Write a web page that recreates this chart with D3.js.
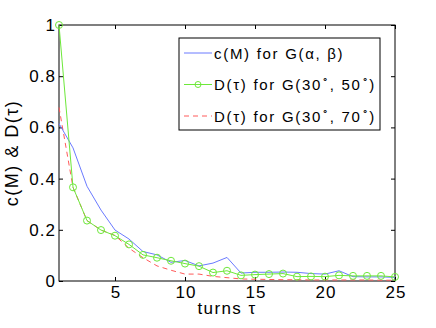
<!DOCTYPE html>
<html>
<head>
<meta charset="utf-8">
<script src="https://cdn.jsdelivr.net/npm/d3@7"></script>
<style>
  body { margin: 0; background: #fff; }
  text { font-family: "Liberation Sans", Arial, sans-serif; fill: #000; }
</style>
</head>
<body>
<div id="chart"></div>
<script>
const turns = d3.range(1, 26);
const cM = [0.615, 0.52, 0.37, 0.277, 0.199, 0.164, 0.115, 0.102, 0.073, 0.08, 0.059, 0.07,
  0.092, 0.031, 0.034, 0.034, 0.035, 0.034, 0.029, 0.027, 0.04, 0.017, 0.016, 0.016, 0.014];
const d50 = [1.0, 0.366, 0.236, 0.199, 0.177, 0.143, 0.102, 0.091, 0.079, 0.068, 0.058, 0.033,
  0.04, 0.022, 0.025, 0.027, 0.029, 0.017, 0.018, 0.017, 0.022, 0.02, 0.02, 0.02, 0.016];
const d70 = [0.678, 0.366, 0.236, 0.199, 0.178, 0.128, 0.091, 0.059, 0.042, 0.027, 0.027, 0.018,
  0.013, 0.008, 0.007, 0.006, 0.005, 0.005, 0.004, 0.004, 0.004, 0.004, 0.004, 0.003, 0.003];
const xTicks = [5, 10, 15, 20, 25];
const yTicks = [0, 0.2, 0.4, 0.6, 0.8, 1];

const width = 436, height = 328;
const margin = { top: 25, right: 41, bottom: 47, left: 59 };
const w = width - margin.left - margin.right,
  h = height - margin.top - margin.bottom;

const svg = d3.select("#chart").append("svg")
  .attr("width", width)
  .attr("height", height);

const g = svg.append("g")
  .attr("transform", `translate(${margin.left},${margin.top})`);

const x = d3.scaleLinear().domain([1, 25]).range([0, w]);
const y = d3.scaleLinear().domain([0, 1]).range([h, 0]);

// axes, MATLAB style with inward ticks on all four sides
const tickLen = 4;
g.append("g")
  .attr("transform", `translate(0,${h})`)
  .call(d3.axisBottom(x).tickValues(xTicks).tickSizeInner(-tickLen).tickSizeOuter(0).tickPadding(5))
  .call(a => a.selectAll("text").attr("font-size", 17).attr("dy", "0.72em")
    .attr("letter-spacing", 1).attr("dx", 0.5));
g.append("g")
  .call(d3.axisTop(x).tickValues(xTicks).tickSizeInner(-tickLen).tickSizeOuter(0).tickFormat(""));
g.append("g")
  .call(d3.axisLeft(y).tickValues(yTicks).tickSizeInner(-tickLen).tickSizeOuter(0).tickPadding(3)
    .tickFormat(d3.format("~g")))
  .call(a => a.selectAll("text").attr("font-size", 17).attr("letter-spacing", 1));
g.append("g")
  .attr("transform", `translate(${w},0)`)
  .call(d3.axisRight(y).tickValues(yTicks).tickSizeInner(-tickLen).tickSizeOuter(0).tickFormat(""));
g.selectAll(".domain").remove();
g.selectAll(".tick line").attr("stroke", "#000");
g.append("rect")
  .attr("width", w).attr("height", h)
  .attr("fill", "none").attr("stroke", "#000").attr("stroke-width", 1);

const line = d3.line().x((d, i) => x(turns[i])).y(d => y(d));

g.append("path").datum(d70)
  .attr("d", line).attr("fill", "none")
  .attr("stroke", "#ff5a5a").attr("stroke-width", 1).attr("stroke-dasharray", "5,4");
g.append("path").datum(cM)
  .attr("d", line).attr("fill", "none")
  .attr("stroke", "#6a7aff").attr("stroke-width", 1);
g.append("path").datum(d50)
  .attr("d", line).attr("fill", "none")
  .attr("stroke", "#6de83a").attr("stroke-width", 1);
g.selectAll(".pt").data(d50).enter().append("circle")
  .attr("class", "pt")
  .attr("cx", (d, i) => x(turns[i])).attr("cy", d => y(d)).attr("r", 3.5)
  .attr("fill", "none").attr("stroke", "#6de83a").attr("stroke-width", 1);

// axis labels
svg.append("text")
  .attr("x", margin.left + w / 2).attr("y", 314)
  .attr("text-anchor", "middle").attr("font-size", 17).attr("letter-spacing", 1.4)
  .text("turns \u03c4");
svg.append("text")
  .attr("transform", `translate(18,${margin.top + h / 2}) rotate(-90)`)
  .attr("text-anchor", "middle").attr("font-size", 18).attr("letter-spacing", 1.5)
  .text("c(M) & D(\u03c4)");

// legend
const legend = svg.append("g").attr("transform", "translate(179,38)");
legend.append("rect")
  .attr("width", 201).attr("height", 92)
  .attr("fill", "#fff").attr("stroke", "#000").attr("stroke-width", 1);

const items = [
  { color: "#6a7aff", dash: null, marker: false, parts: [["c(M) for G(\u03b1, \u03b2)"]] },
  { color: "#6de83a", dash: null, marker: true, parts: [["D(\u03c4) for G(30"], ["\u2218", true], [", 50"], ["\u2218", true], [")"]] },
  { color: "#ff5a5a", dash: "5,4", marker: false, parts: [["D(\u03c4) for G(30"], ["\u2218", true], [", 70"], ["\u2218", true], [")"]] }
];
items.forEach((it, i) => {
  const cy = 15 + i * 31.5;
  legend.append("line")
    .attr("x1", 5).attr("x2", 33).attr("y1", cy).attr("y2", cy)
    .attr("stroke", it.color).attr("stroke-width", 1)
    .attr("stroke-dasharray", it.dash);
  if (it.marker) {
    legend.append("circle").attr("cx", 19).attr("cy", cy).attr("r", 3)
      .attr("fill", "none").attr("stroke", it.color);
  }
  const t = legend.append("text")
    .attr("x", 35).attr("y", cy + 5.5).attr("font-size", 15).attr("letter-spacing", 1.7);
  it.parts.forEach(p => {
    if (p[1]) {
      t.append("tspan").attr("font-size", 10).attr("dy", -8).text(p[0]);
    } else {
      const prevSup = t.selectAll("tspan").size() > 0 &&
        t.select("tspan:last-child").attr("font-size") === "10";
      t.append("tspan").attr("dy", prevSup ? 8 : 0).text(p[0]);
    }
  });
});
</script>
</body>
</html>
